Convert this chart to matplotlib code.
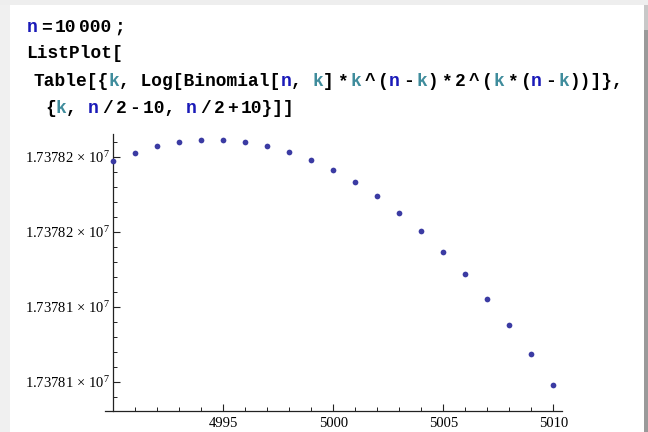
import matplotlib
matplotlib.use("Agg")
import matplotlib.pyplot as plt
from matplotlib.ticker import MultipleLocator
from matplotlib.patches import Rectangle

# ---- data ----
k_values = [4990, 4991, 4992, 4993, 4994, 4995, 4996, 4997, 4998, 4999, 5000,
            5001, 5002, 5003, 5004, 5005, 5006, 5007, 5008, 5009, 5010]
log_values = [17378197.3, 17378202.7, 17378207.3, 17378210.0, 17378211.3,
              17378211.3, 17378210.0, 17378207.3, 17378203.3, 17378198.0,
              17378191.3, 17378183.3, 17378174.0, 17378162.7, 17378150.5,
              17378136.5, 17378121.8, 17378105.1, 17378087.6, 17378068.5,
              17378047.6]
xticks = [4995, 5000, 5005, 5010]
xtick_labels = ["4995", "5000", "5005", "5010"]
yticks = [17378050, 17378100, 17378150, 17378200]
ytick_mantissas = ["1.73781", "1.73781", "1.73782", "1.73782"]

plt.rcParams['mathtext.fontset'] = 'custom'
plt.rcParams['mathtext.rm'] = 'Liberation Serif'
plt.rcParams['mathtext.it'] = 'Liberation Serif:italic'
plt.rcParams['mathtext.default'] = 'rm'

W, H = 648, 432
fig = plt.figure(figsize=(W / 100, H / 100), dpi=100)
fig.patch.set_facecolor('white')

# notebook frame decoration
fig.patches.append(Rectangle((0, 0), 10 / W, 1, transform=fig.transFigure,
                             facecolor='#f0f0f0', edgecolor='none', zorder=0))
fig.patches.append(Rectangle((0, 1 - 5 / H), 1, 5 / H, transform=fig.transFigure,
                             facecolor='#eeeeee', edgecolor='none', zorder=0))
fig.patches.append(Rectangle((644 / W, 0), 4 / W, 1 - 30 / H, transform=fig.transFigure,
                             facecolor='#9a9a9a', edgecolor='none', zorder=0))
fig.patches.append(Rectangle((644 / W, 1 - 30 / H), 4 / W, 25 / H, transform=fig.transFigure,
                             facecolor='#c8c8c8', edgecolor='none', zorder=0))

# ---- code cell text ----
BLACK, BLUE, TEAL = '#000000', '#1a1ab8', '#3f8c9c'
GAP = None
fs_pt = 12.9
char_w = 0.6 * fs_pt * 100 / 72.0
thin = 3.0

lines = [
    (27, 32, [("n", BLUE), GAP, ("=", BLACK), GAP, ("10", BLACK), GAP, ("000", BLACK), GAP, (";", BLACK)]),
    (26, 58, [("ListPlot[", BLACK)]),
    (33, 86, [("Table[{", BLACK), ("k", TEAL), (", Log[Binomial[", BLACK), ("n", BLUE), (", ", BLACK),
              ("k", TEAL), ("]", BLACK), GAP, ("*", BLACK), GAP, ("k", TEAL), GAP, ("^", BLACK), GAP,
              ("(", BLACK), ("n", BLUE), GAP, ("-", BLACK), GAP, ("k", TEAL), (")", BLACK), GAP,
              ("*", BLACK), GAP, ("2", BLACK), GAP, ("^", BLACK), GAP, ("(", BLACK), ("k", TEAL), GAP,
              ("*", BLACK), GAP, ("(", BLACK), ("n", BLUE), GAP, ("-", BLACK), GAP, ("k", TEAL),
              ("))]},", BLACK)]),
    (45, 113, [("{", BLACK), ("k", TEAL), (", ", BLACK), ("n", BLUE), GAP, ("/", BLACK), GAP, ("2", BLACK),
               GAP, ("-", BLACK), GAP, ("10, ", BLACK), ("n", BLUE), GAP, ("/", BLACK), GAP, ("2", BLACK),
               GAP, ("+", BLACK), GAP, ("10}]]", BLACK)]),
]
for x0, base, toks in lines:
    x = x0
    for tok in toks:
        if tok is GAP:
            x += thin
            continue
        txt, col = tok
        fig.text(x / W, 1 - base / H, txt, color=col, fontsize=fs_pt,
                 family='Liberation Mono', weight='bold', ha='left', va='baseline')
        x += len(txt) * char_w

# ---- plot ----
ax = fig.add_axes([105 / W, (H - 411.3) / H, (562 - 105) / W, (411.3 - 134) / H])
ax.patch.set_alpha(0)
ax.scatter(k_values, log_values, s=17, color='#3b3ba3', zorder=3, clip_on=False,
           linewidths=0)
ax.set_xlim(4989.623, 5010.395)
ax.set_ylim(17378030.27, 17378215.1)

for side in ('top', 'right'):
    ax.spines[side].set_visible(False)
ax.spines['left'].set_position(('data', 4990))
for side in ('left', 'bottom'):
    ax.spines[side].set_linewidth(0.9)
    ax.spines[side].set_color('#222222')

ax.set_xticks(xticks, labels=xtick_labels)
ax.set_yticks(yticks, labels=[r"$%s\,\times\,10^{7}$" % m for m in ytick_mantissas])
ax.xaxis.set_minor_locator(MultipleLocator(1))
ax.yaxis.set_minor_locator(MultipleLocator(10))
ax.tick_params(which='major', direction='in', length=5, width=0.8, color='#222222')
ax.tick_params(which='minor', direction='in', length=3, width=0.7, color='#222222')
ax.tick_params(axis='x', which='major', pad=4, labelsize=10.5)
ax.tick_params(axis='y', which='major', pad=2, labelsize=10.5)
for lab in ax.get_xticklabels():
    lab.set_family('Liberation Serif')

fig.savefig("out.png", dpi=100)
